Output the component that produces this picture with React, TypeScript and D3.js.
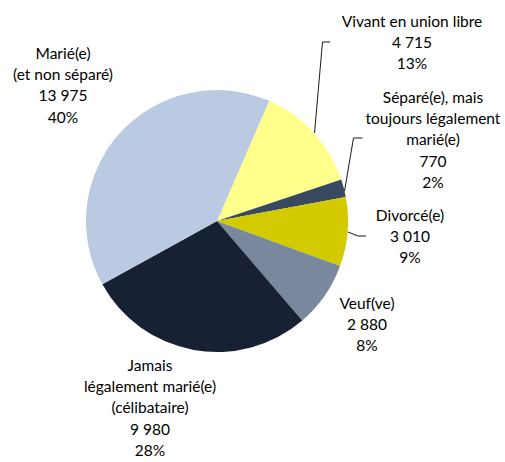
import * as d3 from "d3";
import { useEffect, useRef } from "react";

// état matrimonial, sens horaire depuis "Vivant en union libre"
const categories = [
  ["Vivant en union libre"],
  ["Séparé(e), mais", "toujours légalement", "marié(e)"],
  ["Divorcé(e)"],
  ["Veuf(ve)"],
  ["Jamais", "légalement marié(e)", "(célibataire)"],
  ["Marié(e)", "(et non séparé)"],
];
const values = [4715, 770, 3010, 2880, 9980, 13975];
const colors = ["#FFFF8C", "#394A60", "#D3CB00", "#7A889D", "#182133", "#B9CAE2"];

// label placement (x centre, first line y) and leader lines
const labelPos = [
  [412, 21],
  [433, 97],
  [410, 215],
  [367, 303],
  [150, 365],
  [63, 53],
];
const leaders: ([number, number][] | null)[] = [
  [[330, 42], [322.5, 42], [314.5, 133]],
  [[362.5, 138], [353.5, 138], [344.5, 191]],
  [[348, 232], [358, 236], [366, 236]],
  null,
  null,
  null,
];

export default function App() {
  const ref = useRef<SVGSVGElement>(null);
  const width = 505,
    height = 462;
  const cx = 217,
    cy = 221,
    r = 131;

  useEffect(() => {
    const svg = d3.select(ref.current);
    svg.selectAll("*").remove();
    const total = d3.sum(values);
    const fmt = d3.formatLocale({ decimal: ",", thousands: "\u00a0", grouping: [3], currency: ["", "€"] }).format(",d");

    const pie = d3
      .pie<number>()
      .sort(null)
      .startAngle((23.5 * Math.PI) / 180)
      .endAngle((23.5 * Math.PI) / 180 + 2 * Math.PI);
    const arc = d3.arc<d3.PieArcDatum<number>>().innerRadius(0).outerRadius(r);

    const g = svg.append("g").attr("transform", `translate(${cx},${cy})`);
    g.selectAll("path")
      .data(pie(values))
      .join("path")
      .attr("d", arc)
      .attr("fill", (d, i) => colors[i]);

    leaders.forEach((pts) => {
      if (!pts) return;
      svg
        .append("path")
        .attr("d", d3.line()(pts))
        .attr("fill", "none")
        .attr("stroke", "#000")
        .attr("stroke-width", 0.9);
    });

    const lineH = 21.2;
    categories.forEach((lines, i) => {
      const all = [...lines, fmt(values[i]), Math.round((values[i] / total) * 100) + "%"];
      const t = svg
        .append("text")
        .attr("x", labelPos[i][0])
        .attr("y", labelPos[i][1])
        .attr("text-anchor", "middle")
        .attr("dominant-baseline", "central")
        .attr("font-family", "Lato, 'Open Sans', sans-serif")
        .attr("font-size", 15.5)
        .attr("fill", "#000");
      all.forEach((s, j) => {
        t.append("tspan").attr("x", labelPos[i][0]).attr("y", labelPos[i][1] + j * lineH).text(s);
      });
    });
  }, []);

  return (
    <svg
      ref={ref}
      width={width}
      height={height}
      style={{ position: "absolute", left: 0, top: 0, background: "#fff" }}
    />
  );
}
